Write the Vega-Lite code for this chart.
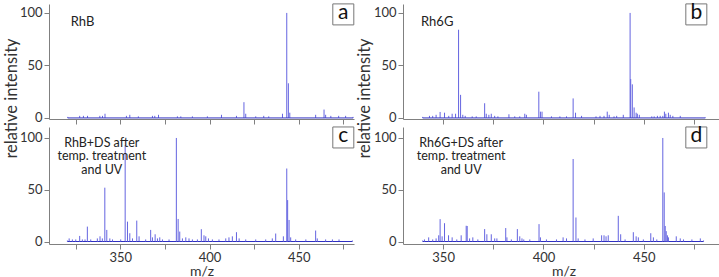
{
  "$schema": "https://vega.github.io/schema/vega-lite/v6.json",
  "background": "white",
  "padding": {"left": 3, "top": 1, "right": 1, "bottom": 0},
  "config": {
    "view": {"stroke": null},
    "font": "Lato",
    "axis": {
      "domainColor": "#808080", "tickColor": "#808080", "labelColor": "#333333", "titleColor": "#333333",
      "labelFont": "Lato", "titleFont": "Lato", "labelFontSize": 13, "titleFontSize": 16.5, "titleFontWeight": "normal",
      "tickSize": 5, "grid": false, "labelPadding": 2
    }
  },
  "datasets": {
    "a": [
      {"mz":320.5,"i":1},{"mz":327.2,"i":2},{"mz":329.3,"i":2},{"mz":331.6,"i":2},{"mz":338.5,"i":2},{"mz":340,"i":2},{"mz":341.4,"i":4},{"mz":353.4,"i":2},{"mz":355.3,"i":3},{"mz":360.1,"i":1.5},{"mz":368,"i":2},{"mz":369.3,"i":2},{"mz":371.4,"i":3},{"mz":382,"i":1.5},{"mz":383.9,"i":1.5},{"mz":390.4,"i":1.5},{"mz":398.8,"i":1.5},{"mz":406.7,"i":3},{"mz":415.1,"i":2},{"mz":419.3,"i":15},{"mz":420.3,"i":4},{"mz":425.9,"i":1.5},{"mz":430.4,"i":2},{"mz":433.2,"i":1.5},{"mz":440.9,"i":4},{"mz":443.3,"i":100},{"mz":444.2,"i":33},{"mz":445,"i":5},{"mz":459.5,"i":3},{"mz":464.2,"i":8},{"mz":465.1,"i":3},{"mz":468,"i":2},{"mz":472.4,"i":2},{"mz":476.3,"i":2},{"mz":480.5,"i":1}
    ],
    "b": [
      {"mz":339.8,"i":1},{"mz":343.2,"i":2},{"mz":344.8,"i":2},{"mz":346.5,"i":3},{"mz":348.5,"i":5.7},{"mz":350.7,"i":5},{"mz":352.8,"i":2},{"mz":354.5,"i":4},{"mz":356.2,"i":4},{"mz":357.7,"i":84},{"mz":358.7,"i":22},{"mz":359.8,"i":3},{"mz":361,"i":2},{"mz":364.5,"i":1.5},{"mz":366.5,"i":1.5},{"mz":370.7,"i":14},{"mz":371.5,"i":4},{"mz":372.8,"i":3},{"mz":374,"i":4},{"mz":375.7,"i":2},{"mz":377.3,"i":1.5},{"mz":382.8,"i":3.5},{"mz":385.7,"i":1.5},{"mz":388.2,"i":1.5},{"mz":390.7,"i":4},{"mz":391.5,"i":3},{"mz":397.7,"i":25},{"mz":398.5,"i":6},{"mz":399.3,"i":6},{"mz":404,"i":1.5},{"mz":408.2,"i":1.5},{"mz":411.5,"i":1.5},{"mz":414.8,"i":18.6},{"mz":416,"i":5},{"mz":419,"i":2},{"mz":426.2,"i":1.5},{"mz":428.2,"i":2},{"mz":430.2,"i":2},{"mz":431.8,"i":6},{"mz":432.8,"i":3},{"mz":435.2,"i":1.5},{"mz":436.5,"i":2},{"mz":439.8,"i":3},{"mz":443.2,"i":100},{"mz":443.5,"i":37},{"mz":444.3,"i":32},{"mz":445.2,"i":10},{"mz":446.2,"i":5},{"mz":446.8,"i":4},{"mz":447.8,"i":3},{"mz":454,"i":1.5},{"mz":455.2,"i":1.5},{"mz":456.8,"i":2},{"mz":458.2,"i":2},{"mz":459.5,"i":2},{"mz":460.3,"i":6},{"mz":461,"i":4},{"mz":462.3,"i":5},{"mz":463.2,"i":3},{"mz":464.5,"i":2},{"mz":468.2,"i":2},{"mz":480.7,"i":0.5}
    ],
    "c": [
      {"mz":320.3,"i":1},{"mz":321.3,"i":3},{"mz":323.1,"i":2},{"mz":325,"i":2},{"mz":327.2,"i":5.4},{"mz":328.7,"i":2},{"mz":330.2,"i":2},{"mz":331.5,"i":14.4},{"mz":333.4,"i":2},{"mz":337.1,"i":3},{"mz":338.6,"i":5},{"mz":339.9,"i":3},{"mz":341.3,"i":52},{"mz":342.4,"i":11.2},{"mz":344.1,"i":3},{"mz":345.6,"i":2},{"mz":350.2,"i":2},{"mz":352.7,"i":93},{"mz":354,"i":19.2},{"mz":355.3,"i":8},{"mz":356.8,"i":3},{"mz":359.2,"i":20.2},{"mz":360.5,"i":5},{"mz":364.2,"i":2},{"mz":367,"i":11.2},{"mz":368,"i":4},{"mz":369.5,"i":7},{"mz":370.8,"i":3},{"mz":372.1,"i":4},{"mz":373.6,"i":2},{"mz":377.3,"i":2},{"mz":381.4,"i":100},{"mz":382.4,"i":21.8},{"mz":383.3,"i":9.6},{"mz":384.8,"i":3},{"mz":386.7,"i":4},{"mz":388.5,"i":3},{"mz":390.4,"i":2},{"mz":393.2,"i":2},{"mz":395.4,"i":11.9},{"mz":396.9,"i":6},{"mz":397.9,"i":5},{"mz":399.4,"i":3},{"mz":401.6,"i":2},{"mz":405.3,"i":2},{"mz":409.1,"i":3},{"mz":410.9,"i":4},{"mz":412.8,"i":5},{"mz":415.1,"i":9},{"mz":416.6,"i":3},{"mz":420.3,"i":2},{"mz":425.9,"i":2},{"mz":431.5,"i":2},{"mz":435.2,"i":3},{"mz":437.1,"i":7.7},{"mz":441.4,"i":5},{"mz":443.3,"i":70.5},{"mz":443.8,"i":40},{"mz":444.6,"i":20.8},{"mz":445.5,"i":4},{"mz":448.3,"i":2},{"mz":454,"i":2},{"mz":459.5,"i":10.6},{"mz":460.4,"i":3},{"mz":465.1,"i":2},{"mz":468.9,"i":2},{"mz":472.6,"i":2},{"mz":480.1,"i":1}
    ],
    "d": [
      {"mz":339.8,"i":1},{"mz":340.7,"i":2},{"mz":342.8,"i":4},{"mz":344.8,"i":2},{"mz":346.5,"i":3},{"mz":347.8,"i":6},{"mz":348.5,"i":21.6},{"mz":349.5,"i":5},{"mz":350.7,"i":17.7},{"mz":352.7,"i":6},{"mz":354.5,"i":4},{"mz":356.8,"i":2},{"mz":359,"i":6},{"mz":361.5,"i":15.2},{"mz":362,"i":15},{"mz":363.2,"i":3},{"mz":364.8,"i":4},{"mz":367.3,"i":2},{"mz":370.7,"i":12},{"mz":371.8,"i":7},{"mz":374,"i":7},{"mz":375.7,"i":3},{"mz":376.8,"i":3},{"mz":381.2,"i":13},{"mz":381.8,"i":4},{"mz":384,"i":2},{"mz":387,"i":12},{"mz":388.2,"i":5},{"mz":389.3,"i":3},{"mz":390.2,"i":2},{"mz":393.2,"i":2},{"mz":397.8,"i":16.8},{"mz":398.5,"i":4},{"mz":401.5,"i":2},{"mz":406.5,"i":2},{"mz":409.8,"i":4},{"mz":411.5,"i":3},{"mz":414.8,"i":79.7},{"mz":416.2,"i":23.2},{"mz":417.3,"i":3},{"mz":420.7,"i":2},{"mz":424.8,"i":3},{"mz":429,"i":6},{"mz":430.2,"i":6},{"mz":431.2,"i":5},{"mz":432.3,"i":6},{"mz":437.3,"i":24.8},{"mz":438.5,"i":7},{"mz":440.7,"i":2},{"mz":444.8,"i":9},{"mz":446.2,"i":5},{"mz":447.3,"i":4},{"mz":449.8,"i":2},{"mz":453.5,"i":8},{"mz":454.8,"i":4},{"mz":456.5,"i":2},{"mz":459.5,"i":100},{"mz":460.2,"i":47.4},{"mz":460.7,"i":15},{"mz":461.2,"i":10},{"mz":461.8,"i":6},{"mz":462.3,"i":4},{"mz":466.2,"i":5},{"mz":468.2,"i":3},{"mz":469.8,"i":2},{"mz":474,"i":2},{"mz":478.2,"i":3},{"mz":479.8,"i":1}
    ]
  },
  "columns": 2,
  "align": "each",
  "bounds": "flush",
  "spacing": {"row": 8, "column": 49},
  "concat": [
    {
      "width": 305, "height": 115,
      "data": {"name": "a"},
      "layer": [
        {"mark": {"type": "rule", "color": "#6464e0", "strokeWidth": 1, "clip": true},
         "encoding": {
           "x": {"field": "mz", "type": "quantitative", "scale": {"domain": [310, 481], "nice": false, "zero": false},
                 "axis": {"values": [325,350,375,400,425,450,475], "labels": false, "title": null}},
           "y": {"field": "i", "type": "quantitative", "scale": {"domain": [-1, 108.5], "nice": false, "zero": false},
                 "axis": {"values": [0,50,100], "title": "relative intensity", "titleY": 94, "titlePadding": 0}},
           "y2": {"datum": 0}}},
        {"mark": {"type": "line", "color": "#2f2fc0", "strokeWidth": 1},
         "encoding": {"x": {"field": "mz", "type": "quantitative"}, "y": {"datum": 0}}},
        {"data": {"values": [{"t": "RhB"}]},
         "mark": {"type": "text", "align": "left", "baseline": "middle", "fontSize": 13, "color": "#222222", "font": "Lato"},
         "encoding": {"text": {"field": "t"}, "x": {"datum": 322.2}, "y": {"datum": 91.4}}},
        {"data": {"values": [{"t": "a"}]},
         "mark": {"type": "point", "shape": "square", "size": 441, "filled": true, "fill": "white", "stroke": "#777777", "strokeWidth": 1, "opacity": 1},
         "encoding": {"x": {"datum": 475}, "y": {"datum": 98.6}}},
        {"data": {"values": [{"t": "a"}]},
         "mark": {"type": "text", "align": "center", "baseline": "middle", "fontSize": 21, "color": "#111111", "font": "Lato", "dy": -1},
         "encoding": {"text": {"field": "t"}, "x": {"datum": 475}, "y": {"datum": 98.6}}}
      ]
    },
    {
      "width": 321, "height": 115,
      "data": {"name": "b"},
      "layer": [
        {"mark": {"type": "rule", "color": "#6464e0", "strokeWidth": 1, "clip": true},
         "encoding": {
           "x": {"field": "mz", "type": "quantitative", "scale": {"domain": [330, 490], "nice": false, "zero": false},
                 "axis": {"values": [325,350,375,400,425,450,475], "labels": false, "title": null}},
           "y": {"field": "i", "type": "quantitative", "scale": {"domain": [-1, 108.5], "nice": false, "zero": false},
                 "axis": {"values": [0,50,100], "title": "relative intensity", "titleY": 94, "titlePadding": 1}},
           "y2": {"datum": 0}}},
        {"mark": {"type": "line", "color": "#2f2fc0", "strokeWidth": 1},
         "encoding": {"x": {"field": "mz", "type": "quantitative"}, "y": {"datum": 0}}},
        {"data": {"values": [{"t": "Rh6G"}]},
         "mark": {"type": "text", "align": "left", "baseline": "middle", "fontSize": 13, "color": "#222222", "font": "Lato"},
         "encoding": {"text": {"field": "t"}, "x": {"datum": 339}, "y": {"datum": 91.4}}},
        {"data": {"values": [{"t": "b"}]},
         "mark": {"type": "point", "shape": "square", "size": 441, "filled": true, "fill": "white", "stroke": "#777777", "strokeWidth": 1, "opacity": 1},
         "encoding": {"x": {"datum": 476.2}, "y": {"datum": 98.6}}},
        {"data": {"values": [{"t": "b"}]},
         "mark": {"type": "text", "align": "center", "baseline": "middle", "fontSize": 21, "color": "#111111", "font": "Lato", "dy": -1},
         "encoding": {"text": {"field": "t"}, "x": {"datum": 476.2}, "y": {"datum": 98.6}}}
      ]
    },
    {
      "width": 305, "height": 117,
      "data": {"name": "c"},
      "layer": [
        {"mark": {"type": "rule", "color": "#6464e0", "strokeWidth": 1, "clip": true},
         "encoding": {
           "x": {"field": "mz", "type": "quantitative", "scale": {"domain": [310, 481], "nice": false, "zero": false},
                 "axis": {"values": [325,350,375,400,425,450,475], "labelExpr": "datum.value % 50 == 0 ? datum.label : ''", "title": "m/z", "titleFontSize": 14, "titlePadding": 0}},
           "y": {"field": "i", "type": "quantitative", "scale": {"domain": [-2.4, 110.6], "nice": false, "zero": false},
                 "axis": {"values": [0,50,100], "title": null}},
           "y2": {"datum": 0}}},
        {"mark": {"type": "line", "color": "#2f2fc0", "strokeWidth": 1},
         "encoding": {"x": {"field": "mz", "type": "quantitative"}, "y": {"datum": 0}}},
        {"data": {"values": [{"t": "RhB+DS after\ntemp. treatment\nand UV"}]},
         "mark": {"type": "text", "align": "center", "baseline": "middle", "fontSize": 12.5, "lineHeight": 13.5, "lineBreak": "\n", "color": "#222222", "font": "Lato"},
         "encoding": {"text": {"field": "t"}, "x": {"datum": 339.6}, "y": {"datum": 95.2}}},
        {"data": {"values": [{"t": "c"}]},
         "mark": {"type": "point", "shape": "square", "size": 441, "filled": true, "fill": "white", "stroke": "#777777", "strokeWidth": 1, "opacity": 1},
         "encoding": {"x": {"datum": 475}, "y": {"datum": 100.5}}},
        {"data": {"values": [{"t": "c"}]},
         "mark": {"type": "text", "align": "center", "baseline": "middle", "fontSize": 21, "color": "#111111", "font": "Lato", "dy": -1},
         "encoding": {"text": {"field": "t"}, "x": {"datum": 475}, "y": {"datum": 100.5}}}
      ]
    },
    {
      "width": 321, "height": 117,
      "data": {"name": "d"},
      "layer": [
        {"mark": {"type": "rule", "color": "#6464e0", "strokeWidth": 1, "clip": true},
         "encoding": {
           "x": {"field": "mz", "type": "quantitative", "scale": {"domain": [330, 490], "nice": false, "zero": false},
                 "axis": {"values": [325,350,375,400,425,450,475], "labelExpr": "datum.value % 50 == 0 ? datum.label : ''", "title": "m/z", "titleFontSize": 14, "titlePadding": 0}},
           "y": {"field": "i", "type": "quantitative", "scale": {"domain": [-2.4, 110.6], "nice": false, "zero": false},
                 "axis": {"values": [0,50,100], "title": null}},
           "y2": {"datum": 0}}},
        {"mark": {"type": "line", "color": "#2f2fc0", "strokeWidth": 1},
         "encoding": {"x": {"field": "mz", "type": "quantitative"}, "y": {"datum": 0}}},
        {"data": {"values": [{"t": "Rh6G+DS after\ntemp. treatment\nand UV"}]},
         "mark": {"type": "text", "align": "center", "baseline": "middle", "fontSize": 12.5, "lineHeight": 13.5, "lineBreak": "\n", "color": "#222222", "font": "Lato"},
         "encoding": {"text": {"field": "t"}, "x": {"datum": 359}, "y": {"datum": 95.2}}},
        {"data": {"values": [{"t": "d"}]},
         "mark": {"type": "point", "shape": "square", "size": 441, "filled": true, "fill": "white", "stroke": "#777777", "strokeWidth": 1, "opacity": 1},
         "encoding": {"x": {"datum": 476.2}, "y": {"datum": 100.5}}},
        {"data": {"values": [{"t": "d"}]},
         "mark": {"type": "text", "align": "center", "baseline": "middle", "fontSize": 21, "color": "#111111", "font": "Lato", "dy": -1},
         "encoding": {"text": {"field": "t"}, "x": {"datum": 476.2}, "y": {"datum": 100.5}}}
      ]
    }
  ],
  "resolve": {"scale": {"x": "independent", "y": "independent"}}
}
